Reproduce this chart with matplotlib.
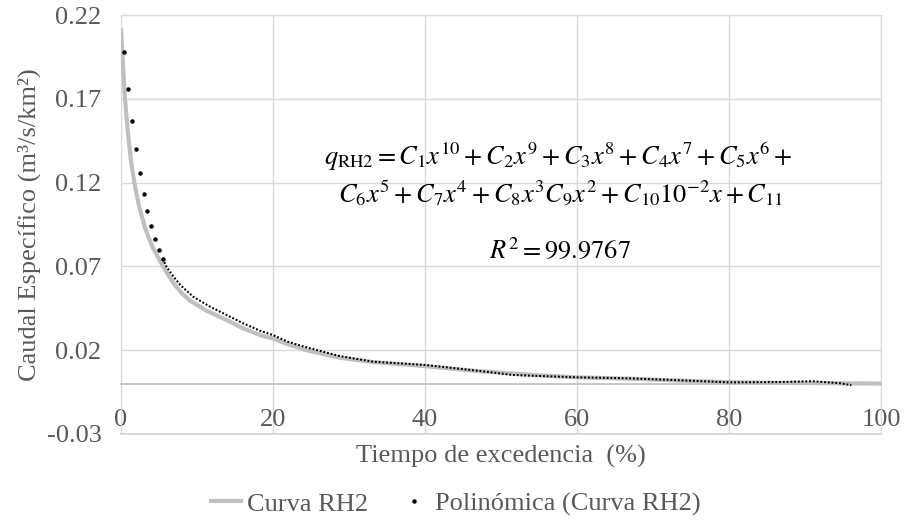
import numpy as np
import matplotlib
matplotlib.use("Agg")
import matplotlib.pyplot as plt
from matplotlib.lines import Line2D

plt.rcParams['font.family'] = ['Liberation Serif', 'DejaVu Serif']
plt.rcParams['mathtext.fontset'] = 'stix'

# Curva RH2
curve_x = [0, 0.3, 0.53, 0.88, 1.3, 1.75, 2.37, 3.16, 4.1, 5.1, 6.0, 6.9, 8.0, 9.1, 11.3,
           13.9, 16.1, 18.3, 20, 22, 24.4, 28.8, 33, 40, 47, 55, 60, 67, 75, 80, 87, 93, 100]
curve_y = [0.212, 0.187, 0.170, 0.151, 0.1335, 0.120, 0.106, 0.093, 0.082, 0.0735, 0.0665,
           0.060, 0.054, 0.0495, 0.0435, 0.038, 0.033, 0.029, 0.027, 0.0235, 0.0200, 0.0155,
           0.013, 0.0105, 0.0075, 0.005, 0.0038, 0.003, 0.0016, 0.0009, 0.0005, 0.0003, 0.0001]

# Polinómica trendline, steep start (single dots)
poly_head_x = [0.44, 0.96, 1.49, 1.97, 2.46, 2.98, 3.46, 3.95, 4.47, 4.96, 5.48]
poly_head_y = [0.1977, 0.1757, 0.1568, 0.140, 0.1255, 0.1134, 0.1031, 0.0939, 0.0865,
               0.080, 0.0746]
# rest of the trendline (dense dots)
poly_x = [5.48, 5.96, 6.9, 7.8, 9.5, 11.7, 13.9, 16.1, 18.3, 20, 22, 24.4, 28.8, 33.2, 40,
          47.2, 51.6, 60, 67, 74.9, 80, 86.7, 91, 94.6, 96.1]
poly_y = [0.0746, 0.070, 0.0639, 0.0589, 0.0519, 0.046, 0.041, 0.036, 0.0316, 0.029, 0.025,
          0.0217, 0.0165, 0.0131, 0.0112, 0.0076, 0.0052, 0.0038, 0.0032, 0.0018, 0.0008,
          0.001, 0.0015, 0.0003, -0.0009]

x_ticks = [0, 20, 40, 60, 80, 100]
y_ticks = [-0.03, 0.02, 0.07, 0.12, 0.17, 0.22]

txt = '#595959'
grid_c = '#d9d9d9'
fs = 19

fig = plt.figure(figsize=(9.06, 5.22), dpi=100)
ax = fig.add_axes([121 / 906, 1 - 434 / 522, 760 / 906, 419 / 522])

ax.plot(curve_x, curve_y, color='#bfbfbf', lw=3, solid_capstyle='butt', zorder=3)
ax.plot(poly_head_x, poly_head_y, ls='none', marker='o', ms=2.2, color='black', zorder=4)
ax.plot(poly_x, poly_y, color='black', lw=1.5, ls=(0, (0.9, 0.9)), zorder=4)

ax.set_xlim(0, 100)
ax.set_ylim(-0.03, 0.22)
ax.set_xticks(x_ticks)
ax.set_yticks(y_ticks)
ax.set_yticklabels(['%.2f' % v for v in y_ticks])
ax.grid(True, color=grid_c, lw=1)
ax.set_axisbelow(True)

for s in ['top', 'right', 'left']:
    ax.spines[s].set_color(grid_c)
ax.spines['bottom'].set_position(('data', 0))
ax.spines['bottom'].set_color('#bfbfbf')
ax.spines['bottom'].set_linewidth(1.2)
ax.axhline(-0.03, color=grid_c, lw=1.5, clip_on=False, zorder=0)

ax.tick_params(length=0, labelsize=fs, labelcolor=txt)
ax.tick_params(axis='x', pad=18)
ax.tick_params(axis='y', pad=14)

ax.set_xlabel('Tiempo de excedencia  (%)', fontsize=fs, color=txt, labelpad=10)
ax.set_ylabel('Caudal Específico (m³/s/km²)', fontsize=fs, color=txt, labelpad=4)

eq1 = r'$q_{\mathrm{RH2}} = C_1x^{10} + C_2x^9 + C_3x^8 + C_4x^7 + C_5x^6 +$'
eq2 = r'$C_6x^5 + C_7x^4 + C_8x^3C_9x^2 + C_{10}10^{-2}x + C_{11}$'
eq3 = r'$R^2 = 99.9767$'
ax.text(0.576, 0.661, eq1, transform=ax.transAxes, ha='center', va='center', fontsize=fs, color='black')
ax.text(0.578, 0.575, eq2, transform=ax.transAxes, ha='center', va='center', fontsize=fs, color='black')
ax.text(0.578, 0.439, eq3, transform=ax.transAxes, ha='center', va='center', fontsize=fs, color='black')

handles = [Line2D([], [], color='#bfbfbf', lw=3),
           Line2D([], [], ls='none', marker='o', ms=2.2, color='black')]
leg = fig.legend(handles, ['Curva RH2', 'Polinómica (Curva RH2)'], loc='center',
                 bbox_to_anchor=(0.503, 1 - 504 / 522), ncol=2, frameon=False, fontsize=fs,
                 handlelength=1.15, handletextpad=0.2, columnspacing=1.2)
for t in leg.get_texts():
    t.set_color(txt)

fig.savefig('out.png', dpi=100)
